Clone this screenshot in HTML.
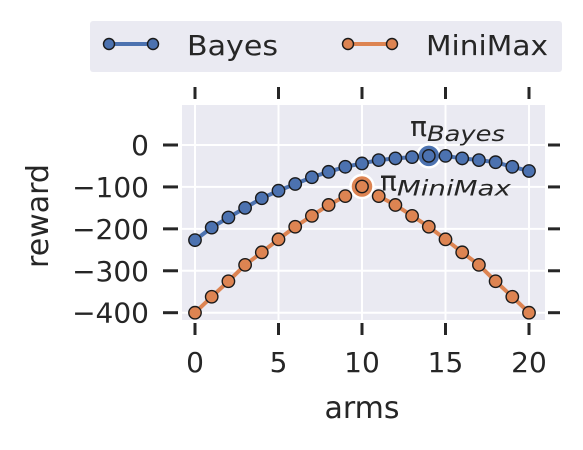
<!DOCTYPE html>
<html><head><meta charset="utf-8"><style>
body{margin:0;background:#fff;}
svg text{font-family:"DejaVu Sans","Liberation Sans",sans-serif;fill:#262626;}
</style></head><body>
<svg width="583" height="445">
<g id="root"></g>
</svg>
<script>
const arms=[0,1,2,3,4,5,6,7,8,9,10,11,12,13,14,15,16,17,18,19,20];
const bayes=[-227,-197,-173,-150,-127,-109,-93,-77,-64,-52,-44,-36,-32,-29,-26,-26,-32,-36,-41,-52,-62];
const minimax=[-400,-362,-325,-286,-256,-225,-195,-169,-143,-122,-99,-122,-143,-169,-195,-225,-256,-286,-325,-362,-400];
const xTicks=[0,5,10,15,20];
const yTicks=[0,-100,-200,-300,-400];
const bestBayes=14, bestMinimax=10;
const NS="http://www.w3.org/2000/svg";
const root=document.getElementById('root');
const L=182,R=545,T=105,B=320;
function xs(v){return 195+v*(529-195)/20;}
function ys(v){return 145-v*(312.7-145)/400;}
function mk(tag,at,parent){const e=document.createElementNS(NS,tag);for(const k in at)e.setAttribute(k,at[k]);(parent||root).appendChild(e);return e;}
let bg=mk('rect',{x:L,y:T,width:R-L,height:B-T,fill:'#eaeaf2'});


xTicks.forEach(t=>{const x=xs(t);
 let g=mk('line',{x1:x,x2:x,y1:T,y2:B,stroke:'#fff','stroke-width':2});
 
 
 mk('line',{x1:x,x2:x,y1:B+3,y2:B+15,stroke:'#262626','stroke-width':3});
 mk('line',{x1:x,x2:x,y1:T-18,y2:T-6,stroke:'#262626','stroke-width':3});
 let tx=mk('text',{x:x,y:372,'text-anchor':'middle','font-size':28});tx.textContent=t;
 
 
});
yTicks.forEach(t=>{const y=ys(t);
 let g=mk('line',{x1:L,x2:R,y1:y,y2:y,stroke:'#fff','stroke-width':2});
 
 
 mk('line',{x1:L-19,x2:L-4,y1:y,y2:y,stroke:'#262626','stroke-width':3});
 mk('line',{x1:R+3,x2:R+15,y1:y,y2:y,stroke:'#262626','stroke-width':3});
 let tx=mk('text',{x:L-33,y:y+10,'text-anchor':'end','font-size':28});tx.textContent=(t<0?'\u2212'+(-t):t);
 
 
});
function series(vals,color,name,best){
 const p=mk('polyline',{points:vals.map((v,i)=>xs(arms[i])+','+ys(v)).join(' '),fill:'none',stroke:color,'stroke-width':4});
 
 
 const b=mk('circle',{cx:xs(arms[best]),cy:ys(vals[best]),r:11.5,fill:color,stroke:'#fff','stroke-width':2.5});
 
 
 vals.forEach((v,i)=>{const c=mk('circle',{cx:xs(arms[i]),cy:ys(v),r:6.2,fill:color,stroke:'#1a1a1a','stroke-width':1.4});
  
  });
}
series(bayes,'#4c72b0','bayes',bestBayes);
series(minimax,'#dd8452','minimax',bestMinimax);
let a1=mk('text',{x:xs(13)-2,y:ys(bayes[bestBayes])-20,'font-size':28,'font-family':'DejaVu Serif, Liberation Serif, serif'});
a1.innerHTML='π<tspan font-style="italic" font-size="21" dy="5" textLength="78" lengthAdjust="spacingAndGlyphs">Bayes</tspan>';


let a2=mk('text',{x:xs(10)+18,y:ys(minimax[bestMinimax])+4,'font-size':28,'font-family':'DejaVu Serif, Liberation Serif, serif'});
a2.innerHTML='π<tspan font-style="italic" font-size="21" dy="5" textLength="114" lengthAdjust="spacingAndGlyphs">MiniMax</tspan>';


let xl=mk('text',{x:362,y:418,'text-anchor':'middle','font-size':30});xl.textContent='arms';


let yl=mk('text',{x:0,y:0,'text-anchor':'middle','font-size':30,transform:'translate(48,216) rotate(-90)'});yl.textContent='reward';


const lg=mk('g',{});


mk('rect',{x:90,y:21,width:472,height:51,fill:'#eaeaf2',rx:3},lg);
[['Bayes','#4c72b0',109,91],['MiniMax','#dd8452',348,122]].forEach(([n,c,x,w])=>{
 const e=mk('g',{},lg);
 
 
 mk('line',{x1:x,x2:x+44,y1:44,y2:44,stroke:c,'stroke-width':4},e);
 mk('circle',{cx:x,cy:44,r:5.5,fill:c,stroke:'#1a1a1a','stroke-width':1.4},e);
 mk('circle',{cx:x+44,cy:44,r:5.5,fill:c,stroke:'#1a1a1a','stroke-width':1.4},e);
 const t=mk('text',{x:x+78,y:55,'font-size':28,textLength:w,lengthAdjust:'spacingAndGlyphs'},e);t.textContent=n;
});
</script>
</body></html>
